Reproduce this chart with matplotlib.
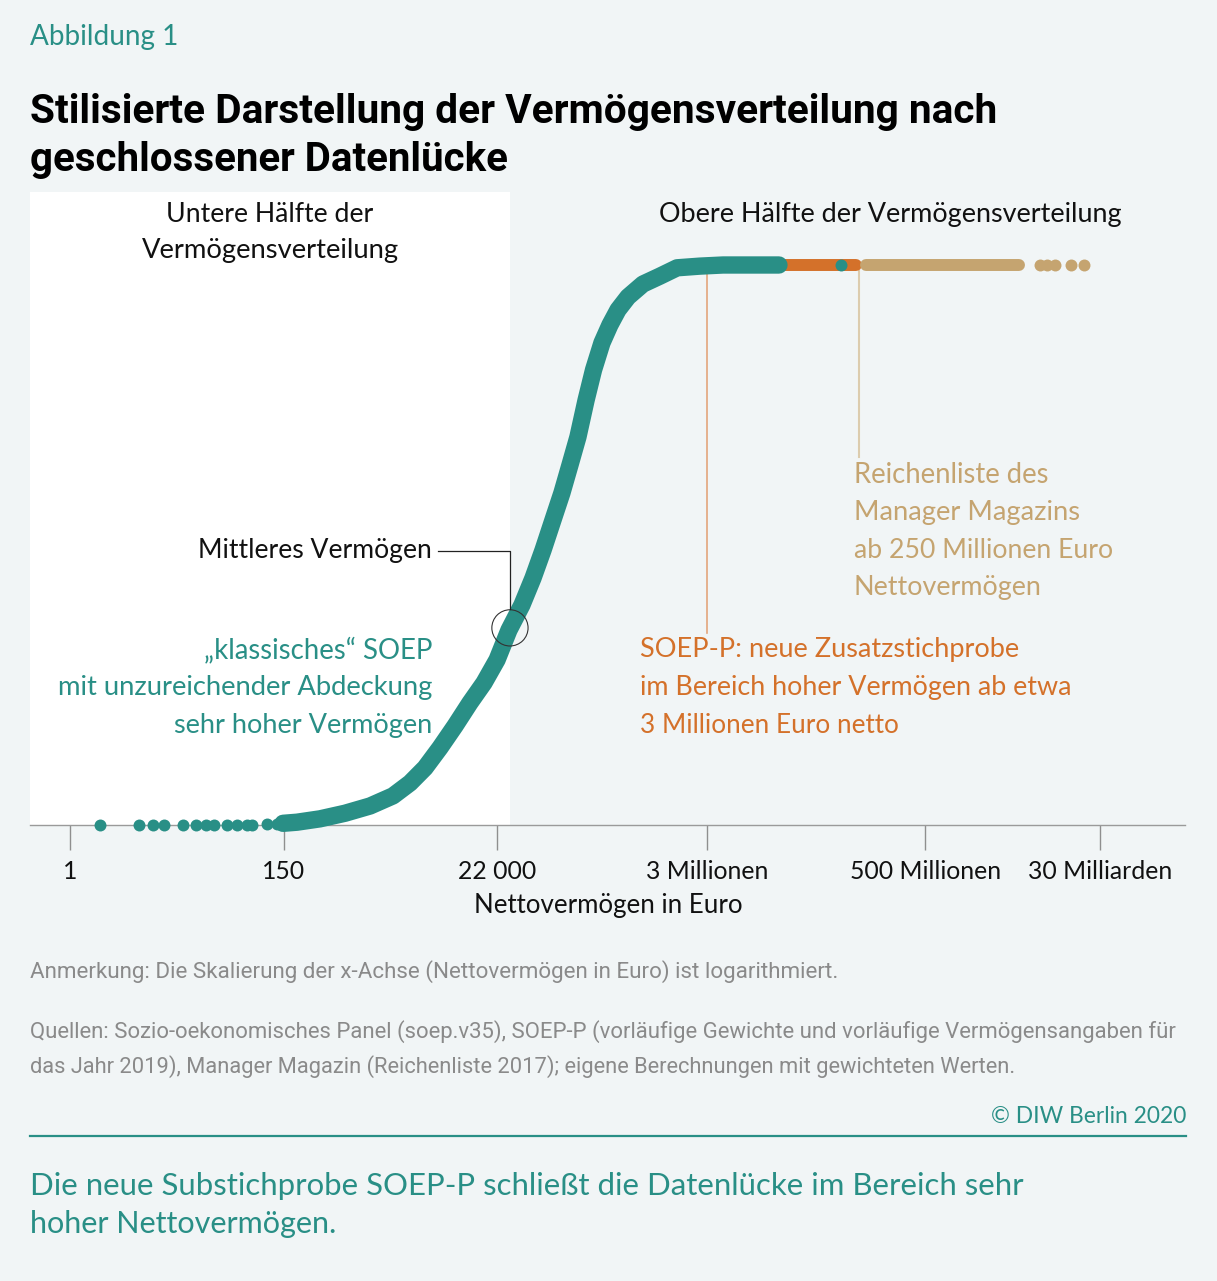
import matplotlib
matplotlib.use("Agg")
import matplotlib.pyplot as plt
from matplotlib import font_manager
import numpy as np

# ---------------- data ----------------
soep_sparse_euro = [2, 5, 7, 9, 14, 19, 24, 29, 40, 50, 63, 71, 101, 128, 147]
soep_sparse_share = [0, 0, 0, 0, 0, 0, 0, 0, 0, 0, 0, 0, 0.2, 0.2, 0.3]

soep_curve_euro = [147, 204, 349, 628, 1130, 1930, 2880, 4090, 5810, 8260,
                   11700, 16300, 22100, 29200, 39600, 51300, 64900, 82000,
                   101000, 122000, 147000, 178000, 212000, 258000, 311000,
                   376000, 475000, 674000, 1.0e6, 1.5e6, 2.56e6, 4.4e6,
                   8.3e6, 1.63e7]
soep_curve_share = [0.3, 0.5, 1.1, 2.1, 3.4, 5.2, 7.5, 10.2, 13.8, 17.7,
                    21.8, 25.4, 29.5, 34.8, 39.3, 44.1, 49.1, 54.5,
                    59.3, 64.3, 69.3, 75.9, 81.3, 86.1, 89.3,
                    92.0, 94.3, 96.6, 98.0, 99.5, 99.8, 100,
                    100, 100]

soepp_band_euro = [3.8e6, 1.0e8]
soepp_band_share = [100, 100]
soep_extra_euro = [7.0e7]
soep_extra_share = [100]

mm_band_euro = [1.25e8, 4.5e9]
mm_band_share = [100, 100]
mm_sparse_euro = [7.4e9, 8.7e9, 1.05e10, 1.52e10, 2.07e10]
mm_sparse_share = [100, 100, 100, 100, 100]

median_euro = 29900
median_share = 35.2
soepp_threshold = 3.0e6
mm_threshold = 1.06e8

tick_values = [1, 150, 22000, 3e6, 5e8, 3e10]
tick_labels = ["1", "150", "22 000", "3 Millionen", "500 Millionen", "30 Milliarden"]

# ---------------- style ----------------
W, H = 1217, 1281
BG = "#f1f5f6"
TEAL = "#298f86"
ORANGE = "#d4712a"
TAN = "#c5a470"
GREY = "#8a8a8a"

names = {f.name for f in font_manager.fontManager.ttflist}
BODY = "Lato" if "Lato" in names else "DejaVu Sans"
COND = "Liberation Sans Narrow" if "Liberation Sans Narrow" in names else (
    "Roboto" if "Roboto" in names else "DejaVu Sans")

fig = plt.figure(figsize=(W / 100, H / 100), dpi=100, facecolor=BG)
renderer = fig.canvas.get_renderer()


def txt(px, py, s, width=None, size=19, ha="left", family=BODY, **kw):
    t = fig.text(px / W, 1 - py / H, s, ha=ha, va="baseline", fontsize=size,
                 family=family, **kw)
    if width:
        w = t.get_window_extent(renderer).width
        t.set_fontsize(size * width / w)
    return t


# ---------------- axes ----------------
px_per_dec = 98.3
ax = fig.add_axes([30 / W, (H - 825) / H, 1155 / W, 633 / H])
ax.set_facecolor("none")
ax.set_xscale("log")
xlo = 10 ** ((30 - 70) / px_per_dec)
xhi = 10 ** ((1185 - 70) / px_per_dec)
ax.set_xlim(xlo, xhi)
ax.set_ylim(0, 633 / 5.6)

ax.axvspan(xlo, median_euro, color="white", zorder=0, lw=0)

for s in ["left", "right", "top"]:
    ax.spines[s].set_visible(False)
ax.spines["bottom"].set_color("#9a9a9a")
ax.spines["bottom"].set_linewidth(1.0)
ax.set_yticks([])
ax.set_xticks(tick_values)
ax.set_xticklabels(tick_labels)
ax.xaxis.set_minor_locator(matplotlib.ticker.NullLocator())
ax.tick_params(axis="x", length=18, width=1.0, color="#8f8f8f", pad=7,
               labelsize=17.8, labelcolor="#111111")
for lab in ax.get_xticklabels():
    lab.set_family(BODY)

# threshold lines
ax.plot([soepp_threshold, soepp_threshold], [99.5, 34.3], color="#e3a57c",
        lw=1.2, zorder=1)
ax.plot([mm_threshold, mm_threshold], [99.5, 65.7], color="#dcccae",
        lw=1.5, zorder=1)

# marks
ms = 74
ax.plot(soepp_band_euro, soepp_band_share, color=ORANGE, lw=8.6,
        solid_capstyle="round", zorder=3, clip_on=False)
ax.plot(mm_band_euro, mm_band_share, color=TAN, lw=8.6,
        solid_capstyle="round", zorder=3, clip_on=False)
ax.scatter(mm_sparse_euro, mm_sparse_share, s=ms, color=TAN, lw=0, zorder=3,
           clip_on=False)
ax.plot(soep_curve_euro, soep_curve_share, color=TEAL, lw=12.5,
        solid_capstyle="round", solid_joinstyle="round", zorder=4, clip_on=False)
ax.scatter(soep_sparse_euro, soep_sparse_share, s=ms, color=TEAL, lw=0,
           zorder=4, clip_on=False)
ax.scatter(soep_extra_euro, soep_extra_share, s=ms, color=TEAL, lw=0,
           zorder=4, clip_on=False)

# median marker and leader
ax.scatter([median_euro], [median_share], s=680, facecolor="none",
           edgecolor="#333333", lw=0.8, zorder=5)
lead_x = 10 ** ((438 - 70) / px_per_dec)
ax.plot([lead_x, median_euro, median_euro], [49.0, 49.0, median_share + 3.3],
        color="#222222", lw=0.9, zorder=5)

# ---------------- texts ----------------
txt(30, 45, "Abbildung 1", width=148, color=TEAL)
txt(30, 123, "Stilisierte Darstellung der Vermögensverteilung nach", width=968,
    family=COND, weight="bold", size=26, color="black")
txt(30, 171, "geschlossener Datenlücke", width=479, family=COND,
    weight="bold", size=26, color="black")

txt(270, 222, "Untere Hälfte der", width=207, ha="center", color="#111111")
txt(270, 258, "Vermögensverteilung", width=258, ha="center", color="#111111")
txt(890, 222, "Obere Hälfte der Vermögensverteilung", width=464, ha="center",
    color="#111111")

txt(432, 558, "Mittleres Vermögen", width=234, ha="right", color="#111111")

txt(432, 658, "„klassisches“ SOEP", width=229, ha="right", color=TEAL)
txt(432, 695, "mit unzureichender Abdeckung", width=377, ha="right", color=TEAL)
txt(432, 733, "sehr hoher Vermögen", width=259, ha="right", color=TEAL)

txt(640, 657, "SOEP-P: neue Zusatzstichprobe", width=379, color=ORANGE)
txt(640, 695, "im Bereich hoher Vermögen ab etwa", width=433, color=ORANGE)
txt(640, 733, "3 Millionen Euro netto", width=259, color=ORANGE)

txt(854, 483, "Reichenliste des", width=196, color=TAN)
txt(854, 520, "Manager Magazins", width=226, color=TAN)
txt(854, 558, "ab 250 Millionen Euro", width=259, color=TAN)
txt(854, 595, "Nettovermögen", width=188, color=TAN)

txt(608, 913, "Nettovermögen in Euro", width=269, ha="center", color="#111111")

txt(30, 978, "Anmerkung: Die Skalierung der x-Achse (Nettovermögen in Euro) ist logarithmiert.",
    width=810, family=COND, color=GREY)
txt(30, 1038, "Quellen: Sozio-oekonomisches Panel (soep.v35), SOEP-P (vorläufige Gewichte und vorläufige Vermögensangaben für",
    width=1145, family=COND, color=GREY)
txt(30, 1073, "das Jahr 2019), Manager Magazin (Reichenliste 2017); eigene Berechnungen mit gewichteten Werten.",
    width=990, family=COND, color=GREY)
txt(1186, 1123, "© DIW Berlin 2020", width=195, ha="right", color=TEAL)

fig.add_artist(plt.Line2D([30 / W, 1186 / W], [1 - 1136 / H, 1 - 1136 / H],
                          color=TEAL, lw=1.6))

txt(30, 1195, "Die neue Substichprobe SOEP-P schließt die Datenlücke im Bereich sehr",
    width=992, color=TEAL)
txt(30, 1233, "hoher Nettovermögen.", width=308, color=TEAL)

fig.savefig("out.png", dpi=100, facecolor=BG)
